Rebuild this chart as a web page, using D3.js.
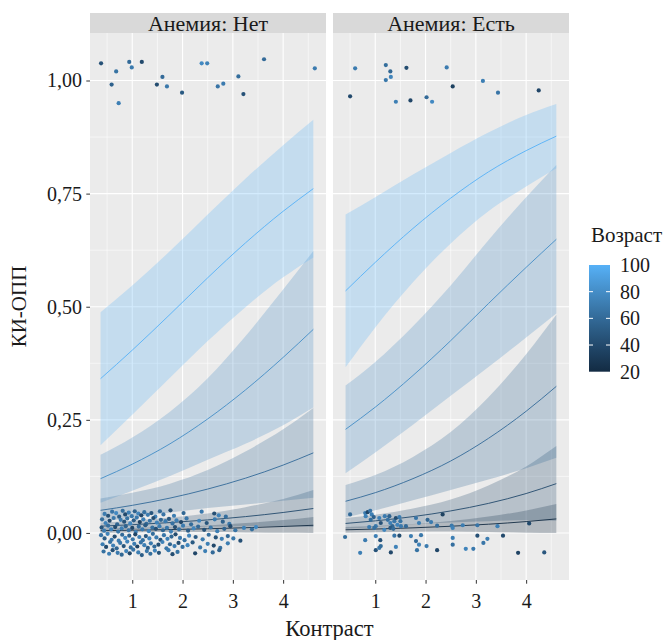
<!DOCTYPE html>
<html>
<head>
<meta charset="utf-8">
<script src="https://cdn.jsdelivr.net/npm/d3@7"></script>
<style>
body { margin: 0; background: #fff; }
svg text { font-family: "Liberation Serif", "Times New Roman", Times, "DejaVu Serif", serif; }
</style>
</head>
<body>
<div id="chart"></div>
<script>
// ages of the fitted curves (colour = age)
var ages = [20, 40, 60, 80, 100];

// Anemia: no
var xNo = [0.37, 1.0, 1.75, 2.5, 3.25, 4.0, 4.6];
var fitNo = [
  [0.005, 0.006, 0.0075, 0.0093, 0.0115, 0.0143, 0.017],
  [0.015, 0.0182, 0.0229, 0.0288, 0.0361, 0.0452, 0.054],
  [0.050, 0.061, 0.077, 0.097, 0.121, 0.150, 0.177],
  [0.120, 0.152, 0.197, 0.252, 0.316, 0.388, 0.450],
  [0.341, 0.404, 0.483, 0.564, 0.641, 0.711, 0.761]
];
var loNo = [
  [0.0005, 0.0012, 0.0019, 0.0019, 0.0012, 0.0002, 0],
  [0.007, 0.009, 0.012, 0.014, 0.015, 0.015, 0.013],
  [0.024, 0.034, 0.045, 0.055, 0.063, 0.071, 0.078],
  [0.067, 0.093, 0.126, 0.162, 0.197, 0.238, 0.277],
  [0.194, 0.261, 0.343, 0.424, 0.499, 0.565, 0.609]
];
var hiNo = [
  [0.0095, 0.0108, 0.0131, 0.0167, 0.0218, 0.0284, 0.0354],
  [0.023, 0.027, 0.034, 0.043, 0.057, 0.075, 0.095],
  [0.076, 0.089, 0.109, 0.139, 0.180, 0.229, 0.276],
  [0.173, 0.211, 0.268, 0.342, 0.435, 0.538, 0.623],
  [0.488, 0.547, 0.623, 0.704, 0.783, 0.857, 0.913]
];

// Anemia: yes
var xYes = [0.41, 1.0, 1.75, 2.5, 3.25, 4.0, 4.6];
var fitYes = [
  [0.007, 0.0086, 0.0113, 0.0148, 0.0193, 0.0251, 0.031],
  [0.021, 0.0267, 0.0361, 0.0487, 0.0653, 0.0871, 0.109],
  [0.070, 0.089, 0.120, 0.159, 0.209, 0.269, 0.324],
  [0.229, 0.278, 0.348, 0.425, 0.507, 0.587, 0.649],
  [0.535, 0.598, 0.673, 0.740, 0.798, 0.845, 0.877]
];
var loYes = [
  [0.0007, 0.0017, 0.0029, 0.0032, 0.0023, 0.0006, 0],
  [0.009, 0.013, 0.019, 0.023, 0.026, 0.028, 0.027],
  [0.034, 0.050, 0.072, 0.095, 0.118, 0.143, 0.166],
  [0.132, 0.178, 0.239, 0.303, 0.367, 0.432, 0.485],
  [0.366, 0.454, 0.554, 0.640, 0.711, 0.766, 0.806]
];
var hiYes = [
  [0.0133, 0.0155, 0.0197, 0.0264, 0.0363, 0.0496, 0.064],
  [0.033, 0.040, 0.054, 0.074, 0.105, 0.147, 0.192],
  [0.106, 0.128, 0.168, 0.223, 0.300, 0.395, 0.482],
  [0.326, 0.378, 0.457, 0.547, 0.647, 0.742, 0.813],
  [0.704, 0.742, 0.792, 0.840, 0.885, 0.924, 0.948]
];

// jittered observations: [contrast, outcome, age]
var ptsNo = [
  [0.38,1.038,45],[0.94,1.041,60],[0.99,1.029,70],[1.19,1.041,40],[0.68,1.020,65],[0.59,0.991,55],
  [0.73,0.950,72],[1.49,0.991,42],[1.60,1.008,60],[1.69,0.987,68],[1.99,0.973,50],[2.38,1.038,78],
  [2.49,1.038,74],[2.70,0.987,66],[2.81,0.993,70],[3.11,1.009,62],[3.21,0.970,45],[3.62,1.047,60],
  [4.63,1.027,70],
  [0.45,0.042,70],[0.52,0.038,45],[0.60,0.047,66],[0.68,0.044,78],[0.74,0.036,52],[0.81,0.049,62],
  [0.86,0.041,40],[0.93,0.045,72],[0.99,0.037,68],[1.05,0.048,55],[1.12,0.043,75],[1.18,0.039,38],
  [1.24,0.046,64],[1.31,0.040,70],[1.38,0.044,48],[1.46,0.036,73],[1.55,0.048,60],[1.62,0.041,66],
  [1.76,0.050,42],[1.83,0.038,71],[2.02,0.044,58],[2.38,0.047,69],[2.63,0.043,44],[2.72,0.039,74],
  [2.86,0.036,63],
  [0.40,0.030,62],[0.47,0.022,74],[0.55,0.027,40],[0.63,0.033,68],[0.70,0.019,57],[0.77,0.029,71],
  [0.84,0.025,46],[0.90,0.032,65],[0.96,0.021,77],[1.03,0.028,52],[1.09,0.034,69],[1.15,0.024,36],
  [1.22,0.030,73],[1.28,0.020,60],[1.35,0.027,66],[1.42,0.033,43],[1.49,0.023,75],[1.57,0.029,58],
  [1.66,0.026,70],[1.73,0.031,49],[1.80,0.021,64],[1.88,0.028,72],[1.97,0.024,38],[2.08,0.032,67],
  [2.17,0.019,61],[2.33,0.027,76],[2.48,0.022,47],[2.64,0.030,70],[2.80,0.025,55],[2.93,0.020,68],
  [0.39,0.012,48],[0.44,0.005,70],[0.52,0.016,63],[0.58,0.008,75],[0.66,0.013,41],[0.72,0.003,68],
  [0.79,0.010,72],[0.87,0.015,55],[0.93,0.006,66],[1.00,0.011,39],[1.07,0.002,74],[1.13,0.014,61],
  [1.20,0.008,69],[1.26,0.017,50],[1.33,0.004,77],[1.40,0.012,64],[1.47,0.009,44],[1.54,0.015,71],
  [1.61,0.006,58],[1.69,0.011,67],[1.77,0.003,73],[1.85,0.013,42],[1.93,0.008,65],[2.01,0.016,70],
  [2.11,0.005,53],[2.22,0.010,76],[2.31,0.014,60],[2.43,0.007,45],[2.56,0.012,68],[2.69,0.004,72],
  [2.83,0.009,57],[2.95,0.015,40],[3.05,0.006,66],[3.22,0.011,74],[3.38,0.008,62],[3.46,0.013,78],
  [0.38,-0.005,66],[0.45,-0.012,52],[0.51,-0.002,74],[0.59,-0.015,69],[0.65,-0.008,43],[0.73,-0.017,71],
  [0.80,-0.004,60],[0.86,-0.011,77],[0.94,-0.006,56],[1.01,-0.014,68],[1.06,-0.003,38],[1.14,-0.009,72],
  [1.21,-0.016,65],[1.27,-0.007,49],[1.34,-0.012,75],[1.41,-0.002,62],[1.48,-0.010,70],[1.56,-0.015,45],
  [1.63,-0.005,67],[1.70,-0.013,73],[1.78,-0.008,58],[1.86,-0.003,41],[1.95,-0.011,69],[2.04,-0.016,64],
  [2.13,-0.006,76],[2.26,-0.009,51],[2.40,-0.014,70],[2.52,-0.004,63],[2.66,-0.010,47],[2.78,-0.013,72],
  [2.90,-0.007,59],[3.01,-0.012,68],[3.15,-0.017,44],
  [0.41,-0.025,71],[0.48,-0.031,40],[0.56,-0.020,65],[0.62,-0.028,73],[0.69,-0.034,58],[0.76,-0.022,68],
  [0.83,-0.029,47],[0.90,-0.019,75],[0.97,-0.032,62],[1.04,-0.024,70],[1.10,-0.030,36],[1.17,-0.021,66],
  [1.24,-0.027,72],[1.31,-0.033,54],[1.37,-0.023,69],[1.44,-0.030,61],[1.52,-0.026,44],[1.60,-0.020,74],
  [1.68,-0.034,67],[1.75,-0.025,57],[1.84,-0.029,70],[1.92,-0.022,42],[2.00,-0.031,64],[2.10,-0.027,76],
  [2.20,-0.021,50],[2.35,-0.032,68],[2.50,-0.024,72],[2.62,-0.028,39],[2.75,-0.033,63],[2.90,-0.023,71],
  [0.43,-0.041,64],[0.54,-0.046,72],[0.61,-0.038,45],[0.71,-0.044,69],[0.79,-0.048,58],[0.88,-0.040,74],
  [0.95,-0.045,40],[1.02,-0.037,66],[1.12,-0.043,71],[1.19,-0.049,53],[1.29,-0.040,68],[1.36,-0.046,62],
  [1.45,-0.039,75],[1.53,-0.044,47],[1.72,-0.038,70],[1.80,-0.047,43],[1.90,-0.042,65],[2.25,-0.045,38],
  [2.45,-0.040,72],[2.60,-0.043,60],[2.73,-0.038,55]
];
var ptsYes = [
  [0.60,1.027,70],[0.50,0.965,40],[1.21,1.034,62],[1.30,1.020,58],[1.31,1.008,75],[1.21,1.001,68],
  [1.62,1.028,42],[1.41,0.953,72],[1.70,0.956,38],[2.02,0.963,60],[2.13,0.953,78],[2.42,1.029,70],
  [2.54,0.987,35],[3.14,0.999,72],[3.44,0.973,66],[4.25,0.978,38],
  [0.50,0.041,60],[0.80,0.044,70],[0.85,0.046,38],[0.90,0.049,66],[0.93,0.041,72],[0.97,0.035,55],
  [0.81,0.037,74],[0.91,0.029,62],[1.01,0.015,68],[1.11,0.022,45],[1.19,0.037,70],[1.25,0.029,64],
  [1.30,0.022,73],[1.34,0.015,58],[1.38,0.026,67],[1.41,0.033,42],[1.48,0.035,71],[1.50,0.026,65],
  [1.44,0.018,75],[1.30,0.011,50],[1.51,0.015,69],[1.61,0.015,60],[1.81,0.033,66],[1.87,0.022,72],
  [2.04,0.029,57],[2.11,0.024,70],[2.23,0.016,63],[2.34,0.041,35],[2.52,0.016,68],[2.54,0.011,74],
  [2.74,0.017,71],[3.03,0.017,66],[3.43,0.015,73],[4.06,0.021,40],[0.98,0.011,64],[0.88,0.013,70],
  [1.18,0.007,76],[1.36,0.009,61],[1.28,0.037,56],[1.08,0.033,72],
  [0.40,-0.009,62],[0.80,-0.016,70],[1.10,-0.016,45],[1.01,-0.007,73],[1.38,-0.006,66],[1.48,-0.006,42],
  [1.71,-0.007,71],[1.91,-0.005,68],[1.81,-0.018,60],[1.87,-0.026,74],[1.83,-0.038,65],[2.02,-0.029,70],
  [2.23,-0.038,38],[2.54,-0.011,72],[2.54,-0.026,63],[2.80,-0.035,75],[2.95,-0.035,69],[3.03,-0.006,44],
  [3.15,-0.022,67],[3.23,-0.013,71],[3.54,-0.006,40],[3.84,-0.044,36],[4.36,-0.043,48],[0.70,-0.044,72],
  [1.01,-0.038,46],[1.08,-0.033,68],[1.31,-0.043,39],[1.41,-0.031,74],[1.11,-0.029,62]
];

var yTicks = [0, 0.25, 0.5, 0.75, 1];
var xTicks = [1, 2, 3, 4];
var legendTicks = [20, 40, 60, 80, 100];

var panels = [
  {label: "Анемия: Нет", left: 90, grid: xNo, fit: fitNo, lo: loNo, hi: hiNo, pts: ptsNo},
  {label: "Анемия: Есть", left: 333, grid: xYes, fit: fitYes, lo: loYes, hi: hiYes, pts: ptsYes}
];

var FONT = "Liberation Serif, Times New Roman, serif";
var W = 670, H = 640;
var panelTop = 33, panelW = 236, panelH = 547;

var svg = d3.select("#chart").append("svg")
    .attr("width", W).attr("height", H)
    .style("background", "#fff");

var x = d3.scaleLinear().domain([0.16, 4.852]).range([0, panelW]);
var y = d3.scaleLinear().domain([-0.104, 1.105]).range([panelH, 0]);
var col = d3.scaleLinear().domain([20, 100]).range(["#132B43", "#56B1F7"])
    .interpolate(d3.interpolateLab);

var fmt = function(d) { return d3.format(".2f")(d).replace(".", ","); };

panels.forEach(function(p, pi) {
  var g = svg.append("g").attr("transform", "translate(" + p.left + "," + panelTop + ")");

  g.append("rect").attr("width", panelW).attr("height", panelH).attr("fill", "#EBEBEB");

  // minor grid
  var xMinor = [0.5, 1.5, 2.5, 3.5, 4.5];
  var yMinor = [0.125, 0.375, 0.625, 0.875];
  g.selectAll(".xmin").data(xMinor).enter().append("line")
      .attr("x1", x).attr("x2", x).attr("y1", 0).attr("y2", panelH)
      .attr("stroke", "#fff").attr("stroke-width", 0.55);
  g.selectAll(".ymin").data(yMinor).enter().append("line")
      .attr("y1", y).attr("y2", y).attr("x1", 0).attr("x2", panelW)
      .attr("stroke", "#fff").attr("stroke-width", 0.55);
  // major grid
  g.selectAll(".xmaj").data(xTicks).enter().append("line")
      .attr("x1", x).attr("x2", x).attr("y1", 0).attr("y2", panelH)
      .attr("stroke", "#fff").attr("stroke-width", 1.1);
  g.selectAll(".ymaj").data(yTicks).enter().append("line")
      .attr("y1", y).attr("y2", y).attr("x1", 0).attr("x2", panelW)
      .attr("stroke", "#fff").attr("stroke-width", 1.1);

  // ribbons
  ages.forEach(function(a, k) {
    var area = d3.area()
        .x(function(d, i) { return x(p.grid[i]); })
        .y0(function(d, i) { return y(p.lo[k][i]); })
        .y1(function(d, i) { return y(p.hi[k][i]); })
        .curve(d3.curveMonotoneX);
    g.append("path").datum(p.grid)
        .attr("d", area)
        .attr("fill", col(a)).attr("fill-opacity", 0.26);
  });

  // fitted lines
  ages.forEach(function(a, k) {
    var line = d3.line()
        .x(function(d, i) { return x(p.grid[i]); })
        .y(function(d, i) { return y(p.fit[k][i]); })
        .curve(d3.curveMonotoneX);
    g.append("path").datum(p.grid)
        .attr("d", line)
        .attr("fill", "none").attr("stroke", col(a)).attr("stroke-width", 0.9);
  });

  // points
  g.selectAll(".pt").data(p.pts).enter().append("circle")
      .attr("cx", function(d) { return x(d[0]); })
      .attr("cy", function(d) { return y(d[1]); })
      .attr("r", 2.1)
      .attr("fill", function(d) { return col(d[2]); });

  // strip
  svg.append("rect").attr("x", p.left).attr("y", 13).attr("width", panelW).attr("height", 20)
      .attr("fill", "#D9D9D9");
  svg.append("text").attr("x", p.left + panelW / 2).attr("y", 31)
      .attr("text-anchor", "middle").attr("font-size", 22).attr("fill", "#1a1a1a")
      .attr("font-family", FONT)
      .text(p.label);

  // x axis
  var xa = svg.append("g").attr("transform", "translate(" + p.left + "," + (panelTop + panelH) + ")")
      .call(d3.axisBottom(x).tickValues(xTicks).tickFormat(d3.format("d")).tickSize(3.7).tickPadding(10));
  xa.attr("font-family", FONT);
  xa.select(".domain").remove();
  xa.selectAll("line").attr("stroke", "#333");
  xa.selectAll("text").attr("font-size", 20).attr("fill", "#1a1a1a").attr("font-family", FONT);

  if (pi === 0) {
    var ya = svg.append("g").attr("transform", "translate(" + p.left + "," + panelTop + ")")
        .call(d3.axisLeft(y).tickValues(yTicks).tickFormat(fmt).tickSize(3.7).tickPadding(4.3));
    ya.attr("font-family", FONT);
    ya.select(".domain").remove();
    ya.selectAll("line").attr("stroke", "#333");
    ya.selectAll("text").attr("font-size", 20).attr("fill", "#1a1a1a").attr("font-family", FONT);
  }
});

// axis titles
svg.append("text").attr("x", 90 + (333 + panelW - 90) / 2).attr("y", 636)
    .attr("text-anchor", "middle").attr("font-size", 22.5).attr("fill", "#1a1a1a")
    .attr("font-family", FONT)
    .text("Контраст");
svg.append("text")
    .attr("transform", "translate(26," + (panelTop + panelH / 2) + ") rotate(-90)")
    .attr("text-anchor", "middle").attr("font-size", 21).attr("fill", "#1a1a1a")
    .attr("font-family", FONT)
    .text("КИ-ОПП");

// legend
var legTop = 265, legH = 106.7, legX = 589, legW = 21;
var ly = d3.scaleLinear().domain([20, 100]).range([legTop + legH, legTop]);
var defs = svg.append("defs");
var grad = defs.append("linearGradient").attr("id", "agegrad")
    .attr("x1", 0).attr("y1", 1).attr("x2", 0).attr("y2", 0);
d3.range(0, 1.0001, 0.1).forEach(function(t) {
  grad.append("stop").attr("offset", t).attr("stop-color", col(20 + 80 * t));
});
svg.append("text").attr("x", 591).attr("y", 242).attr("font-size", 21).attr("fill", "#1a1a1a")
    .attr("font-family", FONT)
    .text("Возраст");
svg.append("rect").attr("x", legX).attr("y", legTop).attr("width", legW).attr("height", legH)
    .attr("fill", "url(#agegrad)");
svg.selectAll(".lt").data(legendTicks.slice(1, 4)).enter().append("g")
  .each(function(d) {
    var gg = d3.select(this);
    gg.append("line").attr("x1", legX).attr("x2", legX + 4).attr("y1", ly(d)).attr("y2", ly(d))
        .attr("stroke", "#fff").attr("stroke-width", 1);
    gg.append("line").attr("x1", legX + legW - 4).attr("x2", legX + legW).attr("y1", ly(d)).attr("y2", ly(d))
        .attr("stroke", "#fff").attr("stroke-width", 1);
  });
svg.selectAll(".ll").data(legendTicks).enter().append("text")
    .attr("x", 620).attr("y", function(d) { return ly(d) + 7; })
    .attr("font-size", 20).attr("fill", "#1a1a1a")
    .attr("font-family", FONT)
    .text(function(d) { return d; });
</script>
</body>
</html>
